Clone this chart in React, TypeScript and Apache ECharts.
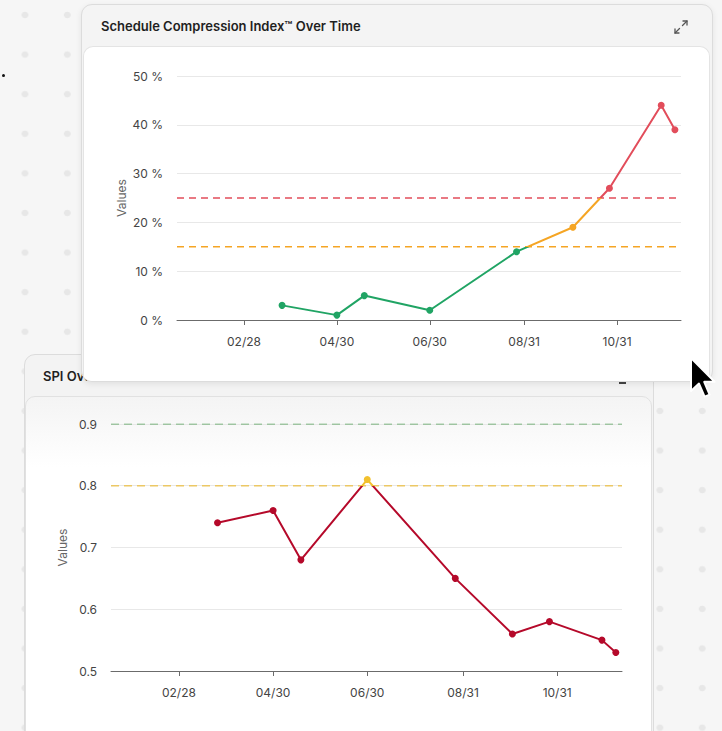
import React, { useEffect, useRef } from "react";
import * as echarts from "echarts";

// ---- data ----
const pointDates = ["2025-03-25", "2025-04-30", "2025-05-18", "2025-06-30", "2025-08-26", "2025-10-02", "2025-10-26", "2025-11-29", "2025-12-08"];
const sciValues = [3, 1, 5, 2, 14, 19, 27, 44, 39];
const spiValues = [0.74, 0.76, 0.68, 0.81, 0.65, 0.56, 0.58, 0.55, 0.53];
const tickDates = ["2025-02-28", "2025-04-30", "2025-06-30", "2025-08-31", "2025-10-31"];
const axisStart = "2025-01-15";
const axisEnd = "2025-12-12";
const sciThresholds = [25, 15];
const spiThresholds = [0.9, 0.8];

const toTs = (s: string) => {
  const [y, m, d] = s.split("-").map(Number);
  return new Date(y, m - 1, d).getTime();
};
const fmt = (v: number) => {
  const d = new Date(v);
  const mm = String(d.getMonth() + 1).padStart(2, "0");
  const dd = String(d.getDate()).padStart(2, "0");
  return mm + "/" + dd;
};

const GREEN = "#20a464";
const ORANGE = "#f5a524";
const RED = "#e24d5b";
const CRIMSON = "#b5092a";
const YELLOW = "#f2c12e";
const FONT = "Inter, 'Noto Sans', sans-serif";

function xAxisCfg(tMin: number, tMax: number, ticks: number[]) {
  return {
    type: "value",
    min: tMin,
    max: tMax,
    axisLine: { lineStyle: { color: "#6b6b6b", width: 1 } },
    axisTick: { customValues: ticks, length: 5, lineStyle: { color: "#6b6b6b" } },
    axisLabel: { customValues: ticks, formatter: fmt, margin: 15, color: "#444", fontSize: 12, fontFamily: FONT },
    splitLine: { show: false },
  };
}

export default function App() {
  const topRef = useRef<HTMLDivElement>(null);
  const botRef = useRef<HTMLDivElement>(null);

  useEffect(() => {
    const tMin = toTs(axisStart);
    const tMax = toTs(axisEnd);
    const ticks = tickDates.map(toTs);
    const xs = pointDates.map(toTs);

    const top = echarts.init(topRef.current!, null, { renderer: "svg" });
    top.setOption({
      animation: false,
      textStyle: { fontFamily: FONT },
      title: {
        text: "Schedule Compression Index™ Over Time",
        left: 20,
        top: 15,
        padding: 0,
        textStyle: { fontSize: 13, fontWeight: 600, color: "#1f1f1f", fontFamily: FONT },
      },
      grid: { left: 96, right: 32, top: 72, bottom: 62 },
      xAxis: xAxisCfg(tMin, tMax, ticks),
      yAxis: {
        type: "value",
        min: 0,
        max: 50,
        interval: 10,
        name: "Values",
        nameLocation: "middle",
        nameGap: 50,
        nameMoveOverlap: false,
        nameTextStyle: { color: "#666", fontSize: 12, fontFamily: FONT },
        axisLine: { show: false },
        axisTick: { show: false },
        axisLabel: { formatter: "{value} %", margin: 14, color: "#444", fontSize: 12, fontFamily: FONT },
        splitLine: { lineStyle: { color: "#e8e8e8" } },
      },
      visualMap: {
        type: "piecewise",
        show: false,
        seriesIndex: 0,
        dimension: 1,
        pieces: [
          { lte: 15, color: GREEN },
          { gt: 15, lte: 25, color: ORANGE },
          { gt: 25, color: RED },
        ],
      },
      series: [
        {
          type: "line",
          data: xs.map((x, i) => [x, sciValues[i]]),
          symbol: "circle",
          symbolSize: 7,
          lineStyle: { width: 2 },
          z: 5,
        },
        {
          type: "line",
          data: [[tMin, sciThresholds[0]], [tMax, sciThresholds[0]]],
          symbol: "none",
          silent: true,
          itemStyle: { color: RED },
          lineStyle: { color: RED, width: 1.5, type: [7, 5] },
        },
        {
          type: "line",
          data: [[tMin, sciThresholds[1]], [tMax, sciThresholds[1]]],
          symbol: "none",
          silent: true,
          itemStyle: { color: ORANGE },
          lineStyle: { color: ORANGE, width: 1.5, type: [7, 5] },
        },
      ],
    });

    const bot = echarts.init(botRef.current!, null, { renderer: "svg" });
    bot.setOption({
      animation: false,
      textStyle: { fontFamily: FONT },
      title: {
        text: "SPI Over Time",
        left: 19,
        top: 15,
        padding: 0,
        textStyle: { fontSize: 13, fontWeight: 600, color: "#1f1f1f", fontFamily: FONT },
      },
      grid: { left: 87, right: 32, top: 70, bottom: 61 },
      xAxis: xAxisCfg(tMin, tMax, ticks),
      yAxis: {
        type: "value",
        min: 0.5,
        max: 0.9,
        interval: 0.1,
        name: "Values",
        nameLocation: "middle",
        nameGap: 43,
        nameMoveOverlap: false,
        nameTextStyle: { color: "#666", fontSize: 12, fontFamily: FONT },
        axisLine: { show: false },
        axisTick: { show: false },
        axisLabel: { formatter: (v: number) => v.toFixed(1), margin: 14, color: "#444", fontSize: 12, fontFamily: FONT },
        splitLine: { lineStyle: { color: "#e8e8e8" } },
      },
      visualMap: {
        type: "piecewise",
        show: false,
        seriesIndex: 0,
        dimension: 1,
        pieces: [
          { lt: 0.8, color: CRIMSON },
          { gte: 0.8, lt: 0.9, color: YELLOW },
          { gte: 0.9, color: "#4e9a52" },
        ],
      },
      series: [
        {
          type: "line",
          data: xs.map((x, i) => [x, spiValues[i]]),
          symbol: "circle",
          symbolSize: 7,
          lineStyle: { width: 2 },
          z: 5,
        },
        {
          type: "line",
          data: [[tMin, spiThresholds[0]], [tMax, spiThresholds[0]]],
          symbol: "none",
          silent: true,
          itemStyle: { color: "#55a05a" },
          lineStyle: { color: "#55a05a", width: 1, type: [8, 5] },
        },
        {
          type: "line",
          data: [[tMin, spiThresholds[1]], [tMax, spiThresholds[1]]],
          symbol: "none",
          silent: true,
          itemStyle: { color: "#ecc865" },
          lineStyle: { color: "#ecc865", width: 1.5, type: [8, 5] },
        },
      ],
    });

    return () => {
      top.dispose();
      bot.dispose();
    };
  }, []);

  return (
    <div
      style={{
        position: "fixed",
        left: 0,
        top: 0,
        width: 722,
        height: 731,
        overflow: "hidden",
        backgroundColor: "#f6f6f6",
        backgroundImage: "radial-gradient(circle at center, #e7e7e7 0, #e7e7e7 3px, transparent 3.6px)",
        backgroundSize: "42.33px 39.6px",
        backgroundPosition: "3.8px -4.8px",
      }}
    >
      <div style={{ position: "absolute", left: 2, top: 74, width: 3, height: 3, borderRadius: 2, background: "#111" }} />

      {/* bottom card */}
      <div
        style={{
          position: "absolute",
          left: 24,
          top: 354,
          width: 630,
          height: 400,
          boxSizing: "border-box",
          border: "1px solid #dcdcdc",
          borderRadius: 11,
          background: "#f3f3f3",
          overflow: "hidden",
          zIndex: 1,
        }}
      >
        <div
          style={{
            position: "absolute",
            left: 0,
            right: 1,
            top: 41,
            bottom: -10,
            boxSizing: "border-box",
            border: "1px solid #e1e1e1",
            borderRadius: 10,
            background: "linear-gradient(#f4f4f4 0px, #ffffff 70px)",
          }}
        />
        <div style={{ position: "absolute", left: 594, top: 27, width: 7, height: 2, background: "#444" }} />
        <div ref={botRef} style={{ position: "absolute", left: -1, top: -1, width: 630, height: 378 }} />
      </div>

      {/* top card */}
      <div
        style={{
          position: "absolute",
          left: 81,
          top: 4,
          width: 632,
          height: 378,
          boxSizing: "border-box",
          border: "1px solid #dcdcdc",
          borderRadius: 11,
          background: "#f4f4f4",
          overflow: "hidden",
          zIndex: 2,
          boxShadow: "0 2px 6px rgba(0,0,0,0.08)",
        }}
      >
        <div
          style={{
            position: "absolute",
            left: 1,
            right: 2,
            top: 41,
            bottom: 0,
            boxSizing: "border-box",
            borderTop: "1px solid #e4e4e4",
            borderLeft: "1px solid #e4e4e4",
            borderRight: "1px solid #e4e4e4",
            borderRadius: "10px 10px 0 0",
            background: "#ffffff",
          }}
        />
        <svg style={{ position: "absolute", left: 591, top: 14 }} width="16" height="16" viewBox="0 0 16 16">
          <g fill="none" stroke="#555" strokeWidth="1.3" strokeLinecap="round" strokeLinejoin="round">
            <line x1="9.5" y1="6.5" x2="14" y2="2" />
            <polyline points="10,2 14,2 14,6" />
            <line x1="6.5" y1="9.5" x2="2" y2="14" />
            <polyline points="2,10 2,14 6,14" />
          </g>
        </svg>
        <div ref={topRef} style={{ position: "absolute", left: -1, top: -1, width: 632, height: 378 }} />
      </div>

      {/* cursor */}
      <svg style={{ position: "absolute", left: 689, top: 356, zIndex: 3 }} width="30" height="44" viewBox="0 0 30 44">
        <path
          d="M2 2 L2 35 L10 27.6 L15.6 40.6 L20.6 38.6 L15.2 25.8 L25.6 25.8 Z"
          fill="#000"
          stroke="#fff"
          strokeWidth="2"
          strokeLinejoin="round"
        />
      </svg>
    </div>
  );
}
